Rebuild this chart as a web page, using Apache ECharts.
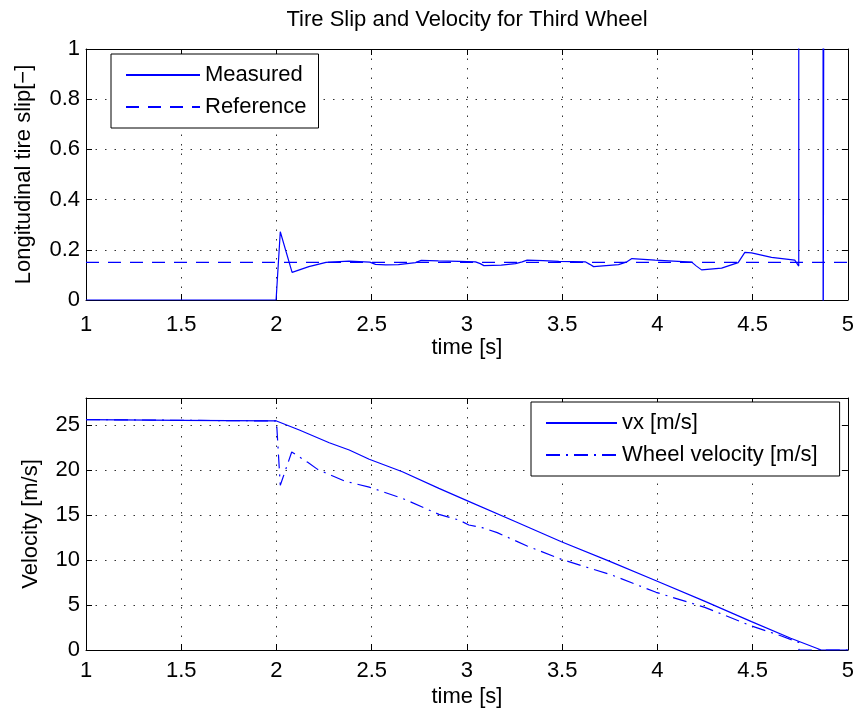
<!DOCTYPE html>
<html>
<head>
<meta charset="utf-8">
<script src="https://cdn.jsdelivr.net/npm/echarts@6/dist/echarts.min.js"></script>
<style>html,body{margin:0;padding:0;background:#fff;}#c{width:857px;height:711px;}</style>
</head>
<body>
<div id="c"></div>
<script>
// ---- Data ----
var titleText = 'Tire Slip and Velocity for Third Wheel';
var xTicks = [1, 1.5, 2, 2.5, 3, 3.5, 4, 4.5, 5];

// Top plot: longitudinal tire slip
var slipTime = [1, 1.998, 2.02, 2.082, 2.17, 2.26, 2.38, 2.49, 2.52, 2.574, 2.64, 2.73, 2.76, 2.85, 2.958, 3.045, 3.07, 3.089, 3.18, 3.255, 3.29, 3.316, 3.4, 3.482, 3.621, 3.645, 3.665, 3.796, 3.84, 3.866, 3.988, 4.18, 4.205, 4.232, 4.337, 4.424, 4.459, 4.494, 4.599, 4.721, 4.73, 4.742, 4.743, 4.869, 4.870, 4.880, 4.881, 5];
var slipMeasured = [0, 0, 0.272, 0.110, 0.133, 0.150, 0.155, 0.151, 0.142, 0.140, 0.141, 0.149, 0.158, 0.156, 0.154, 0.152, 0.145, 0.137, 0.139, 0.145, 0.152, 0.159, 0.157, 0.154, 0.152, 0.142, 0.133, 0.141, 0.152, 0.165, 0.159, 0.151, 0.135, 0.120, 0.127, 0.149, 0.190, 0.188, 0.170, 0.159, 0.149, 0.135, 5, 5, -0.5, -0.5, 5, 5];
var refTime = [1, 5];
var slipReference = [0.15, 0.15];

// Bottom plot: velocities
var vxTime = [1, 1.5, 2.0, 2.12, 2.277, 2.382, 2.487, 2.661, 2.853, 3.0, 3.25, 3.496, 3.75, 3.993, 4.25, 4.494, 4.7, 4.86, 5];
var vx = [25.6, 25.52, 25.45, 24.44, 23.03, 22.22, 21.19, 19.81, 17.96, 16.6, 14.3, 12.03, 9.85, 7.70, 5.4, 3.15, 1.3, 0, 0];
var wheelTime = [1, 1.5, 2.0, 2.02, 2.08, 2.164, 2.216, 2.356, 2.487, 2.661, 2.853, 2.958, 3.01, 3.08, 3.159, 3.316, 3.496, 3.761, 3.993, 4.249, 4.494, 4.651, 4.73, 4.742, 4.743, 5];
var wheelVelocity = [25.6, 25.52, 25.45, 18.3, 22.0, 20.85, 20.07, 18.78, 18.1, 16.85, 15.07, 14.44, 13.89, 13.59, 13.04, 11.56, 10.07, 8.33, 6.41, 4.74, 2.67, 1.56, 0.93, 0.85, 0, 0];

function zip(a, b) { return a.map(function (v, i) { return [v, b[i]]; }); }

var FONT = 'Liberation Sans, Arial, Helvetica, sans-serif';
var FS = 22;
var BLUE = '#0000ff';
var gridLine = { show: true, lineStyle: { color: '#333', width: 1, type: [1.5, 8] } };
var axLine = { show: true, onZero: false, lineStyle: { color: '#000', width: 1 } };
var tick = { show: true, inside: true, length: 6, lineStyle: { color: '#000' } };
var lbl = { color: '#000', fontSize: FS, fontFamily: FONT };

function xMain(grid, margin, nameGap) {
  return {
    type: 'value', gridIndex: grid, position: 'bottom', min: 1, max: 5, interval: 0.5,
    axisLine: axLine, axisTick: tick, splitLine: gridLine,
    axisLabel: Object.assign({ margin: margin }, lbl),
    name: 'time [s]', nameLocation: 'middle', nameGap: nameGap,
    nameTextStyle: { color: '#000', fontSize: FS, fontFamily: FONT }
  };
}
function xTop(grid) {
  return {
    type: 'value', gridIndex: grid, position: 'top', min: 1, max: 5, interval: 0.5,
    axisLine: axLine, axisTick: tick, splitLine: { show: false }, axisLabel: { show: false }
  };
}
function yMain(grid, min, max, interval, name, nameGap, fmt) {
  return {
    type: 'value', gridIndex: grid, position: 'left', min: min, max: max, interval: interval,
    axisLine: axLine, axisTick: tick, splitLine: gridLine,
    axisLabel: Object.assign({ margin: 6, formatter: fmt }, lbl),
    name: name, nameLocation: 'middle', nameGap: nameGap, nameRotate: 90,
    nameTextStyle: { color: '#000', fontSize: FS, fontFamily: FONT }
  };
}
function yRight(grid, min, max, interval) {
  return {
    type: 'value', gridIndex: grid, position: 'right', min: min, max: max, interval: interval,
    axisLine: axLine, axisTick: tick, splitLine: { show: false }, axisLabel: { show: false }
  };
}
var legendCommon = {
  orient: 'vertical', itemHeight: 20, itemGap: 10,
  borderColor: '#000', borderWidth: 1, backgroundColor: '#fff',
  itemStyle: { opacity: 0 },
  textStyle: { color: '#000', fontSize: FS, fontFamily: FONT }
};

var chart = echarts.init(document.getElementById('c'), null, { renderer: 'canvas' });
chart.setOption({
  animation: false,
  backgroundColor: '#fff',
  title: {
    text: titleText, left: 467, top: 9, textAlign: 'center', padding: 0,
    textStyle: { color: '#000', fontSize: FS, fontWeight: 'normal', fontFamily: FONT }
  },
  grid: [
    { left: 86, right: 9, top: 49, height: 251, containLabel: false },
    { left: 86, right: 9, top: 398, height: 252, containLabel: false }
  ],
  xAxis: [xMain(0, 14, 34), xTop(0), xMain(1, 10, 36), xTop(1)],
  yAxis: [
    yMain(0, 0, 1, 0.2, 'Longitudinal tire slip[\u2212]', 51, function (v) { return String(Math.round(v * 10) / 10); }),
    yRight(0, 0, 1, 0.2),
    yMain(1, 0, 28, 5, 'Velocity [m/s]', 44, function (v) { return (Math.abs(v % 5) < 1e-9) ? String(v) : ''; }),
    yRight(1, 0, 28, 5)
  ],
  legend: [
    Object.assign({ left: 111, top: 54, padding: [10, 12, 10, 14], itemWidth: 74, data: ['Measured', 'Reference'] }, legendCommon),
    Object.assign({ left: 531, top: 402, padding: [10, 22, 10, 14], itemWidth: 71, data: ['vx [m/s]', 'Wheel velocity [m/s]'] }, legendCommon)
  ],
  series: [
    { name: 'Measured', type: 'line', xAxisIndex: 0, yAxisIndex: 0, data: zip(slipTime, slipMeasured),
      showSymbol: false, symbol: 'none', clip: true, lineStyle: { color: BLUE, width: 1.2 }, itemStyle: { color: BLUE } },
    { name: 'Reference', type: 'line', xAxisIndex: 0, yAxisIndex: 0, data: zip(refTime, slipReference),
      showSymbol: false, symbol: 'none', clip: true, lineStyle: { color: BLUE, width: 1.2, type: [13, 9] }, itemStyle: { color: BLUE } },
    { name: 'vx [m/s]', type: 'line', xAxisIndex: 2, yAxisIndex: 2, data: zip(vxTime, vx),
      showSymbol: false, symbol: 'none', clip: true, lineStyle: { color: BLUE, width: 1.2 }, itemStyle: { color: BLUE } },
    { name: 'Wheel velocity [m/s]', type: 'line', xAxisIndex: 2, yAxisIndex: 2, data: zip(wheelTime, wheelVelocity),
      showSymbol: false, symbol: 'none', clip: true, lineStyle: { color: BLUE, width: 1.2, type: [14, 6, 2, 6] }, itemStyle: { color: BLUE } }
  ]
});
</script>
</body>
</html>
